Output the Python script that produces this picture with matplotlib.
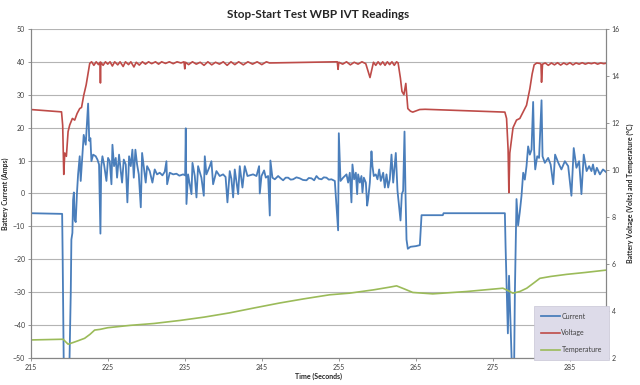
import matplotlib
matplotlib.use('Agg')
import matplotlib.pyplot as plt
from matplotlib.lines import Line2D

# ---------------- data ----------------
title = "Stop-Start Test WBP IVT Readings"
x_label = "Time (Seconds)"
left_label = "Battery Current (Amps)"
right_label = "Battery Voltage (Volts) and Temperature (°C)"
x_ticks = [215, 225, 235, 245, 255, 265, 275, 285]
left_ticks = [-50, -40, -30, -20, -10, 0, 10, 20, 30, 40, 50]
right_ticks = [2, 4, 6, 8, 10, 12, 14, 16]
series_names = ["Current", "Voltage", "Temperature"]

current_t = [215, 219.08, 219.15, 219.3, 220.0, 220.2, 220.28, 220.41, 220.5, 220.6,
             220.71, 220.84, 221.0, 221.15, 221.36, 221.49, 221.71, 221.88, 222.14, 222.45,
             222.6, 222.75, 222.88, 223.1, 223.44, 223.66, 223.87, 224.05, 224.15, 224.31,
             224.52, 224.83, 225.04, 225.26, 225.48, 225.61, 225.82, 226.04, 226.21, 226.47,
             226.69, 226.86, 227.08, 227.34, 227.55, 227.77, 227.99, 228.2, 228.38, 228.59,
             228.81, 229.03, 229.29, 229.46, 229.67, 229.93, 230.11, 230.45, 230.8, 231.1,
             231.4, 231.75, 232.1, 232.4, 232.62, 232.71, 233.05, 233.5, 233.92, 234.3,
             234.78, 235.05, 235.13, 235.22, 235.43, 235.87, 236.0, 236.3, 236.52, 236.73,
             237.16, 237.47, 237.6, 237.81, 238.25, 238.46, 238.68, 239.11, 239.54, 239.98,
             240.3, 240.54, 240.84, 241.05, 241.28, 241.49, 241.93, 242.14, 242.49, 242.79,
             243.14, 243.44, 243.87, 244.31, 244.65, 244.74, 244.96, 245.3, 245.52, 245.82,
             246.04, 246.12, 246.38, 246.69, 247.12, 247.45, 247.77, 248.1, 248.42, 248.75,
             249.07, 249.5, 249.93, 250.35, 250.8, 251.1, 251.45, 251.8, 252.1, 252.4,
             252.75, 253.05, 253.4, 253.7, 254.05, 254.48, 254.91, 255.0, 255.22, 255.56,
             256.0, 256.21, 256.43, 256.64, 256.77, 256.99, 257.21, 257.38, 257.51, 257.73,
             257.94, 258.07, 258.25, 258.51, 258.68, 258.81, 259.03, 259.24, 259.37, 259.54,
             259.8, 260.02, 260.24, 260.45, 260.76, 260.97, 261.19, 261.41, 261.62, 261.84,
             262.06, 262.4, 262.62, 262.83, 263.01, 263.18, 263.35, 263.53, 263.66, 263.79,
             263.96, 264.3, 265.0, 265.52, 265.74, 268.5, 268.6, 276.56, 276.65, 276.95,
             277.1, 277.5, 277.75, 277.86, 278.07, 278.28, 278.5, 278.72, 278.94, 279.15,
             279.37, 279.58, 279.8, 280.02, 280.23, 280.36, 280.5, 280.76, 281.0, 281.32,
             281.45, 281.75, 282.18, 282.5, 282.84, 283.08, 283.5, 283.9, 284.35, 284.78,
             285.2, 285.5, 285.85, 286.2, 286.5, 286.8, 287.17, 287.5, 287.8, 288.0,
             288.25, 288.5, 288.9, 289.3, 289.7]
current_a = [-6, -6.2, -20, -55, -55, -30, -14, -12, -2, 0.3,
             -8, -8.7, 0, 5.8, 11.3, 3.8, 11.8, 17.8, 14.8, 27.3,
             16, 16.8, 9.8, 11.8, 11.3, 10.3, 8.8, -12.2, 8, 11.3,
             8.8, 3.8, 10.8, 9.8, 2.8, 14.8, 8.3, 10.8, 4.8, 11.8,
             6.8, 3.3, 10.3, 8.8, -2.7, 11.3, 8.3, 13.3, 4.8, 13.3,
             8.8, 5.8, -4.2, 12.3, 8.3, 3.3, 8.3, 6.8, 3.3, 7.3,
             5.8, 6.3, 5.5, 6.6, 9.8, 2.8, 6.3, 5.8, 6.0, 5.4,
             5.8, 5.5, 19.8, -3.2, 5.8, -0.2, 9.3, 5.3, -1.2, 8.3,
             4.8, -0.7, 11.3, 5.8, 8.3, 9.8, 2.8, 6.8, 5.3, 5.8,
             5.0, -2.7, 6.8, 4.5, -1.2, 7.3, -0.2, 8.3, 1.8, 8.3,
             5.3, 5.5, 5.8, 5.3, 8.3, 0.0, 5.3, 7.0, 4.8, 5.3,
             -6.7, 10.0, 4.8, 4.3, 5.3, 4.6, 4.0, 4.8, 4.8, 4.2,
             4.3, 4.9, 4.6, 4.1, 4.0, 4.7, 4.6, 4.0, 5.3, 4.5,
             4.3, 4.9, 4.8, 4.2, 4.3, 3.8, -11.2, 18.3, 3.8, 4.8,
             5.8, 3.3, 6.3, -2.7, 8.8, 4.3, 6.3, -0.2, 5.8, 3.3,
             5.3, 0.3, 4.8, 3.3, -3.7, -1.7, 3.3, 12.8, 8.3, 5.3,
             5.8, 4.3, 7.3, 3.8, 6.3, 1.8, 5.8, 1.8, 4.3, 11.8,
             3.3, 12.3, 0.8, -4.2, -8.2, -0.2, 0.8, 18.8, -0.2, -14,
             -16.8, -16.2, -16.0, -15.7, -6.6, -6.6, -6.0, -6.0, -16, -42.5,
             -25, -55, -55, -30, -1.7, -9.7, -5.6, -0.7, 6.3, 4.2,
             8.3, 14.3, 11.8, 13.3, 27.8, 13.3, 7.3, 11.3, 10.8, 28.3,
             11.3, 9.3, 10.8, 8.8, 2.8, 11.8, 9.3, 7.3, 9.8, 8.3,
             -0.7, 13.8, 7.8, 9.8, -0.2, 11.8, 6.8, 8.3, 6.8, 8.8,
             5.8, 7.8, 5.8, 7.3, 6.5]

voltage_t = [215, 219.0, 219.15, 219.29, 219.42, 219.63, 219.85, 220.06, 220.41, 220.71,
             221.02, 221.36, 221.6, 221.88, 222.2, 222.66, 222.9, 223.2, 223.5, 223.8,
             224.0, 224.05, 224.1, 224.4, 224.7, 225.0, 225.3, 225.6, 225.9, 226.3,
             226.6, 227.0, 227.3, 227.7, 228.0, 228.4, 228.7, 229.1, 229.5, 229.9,
             230.3, 230.7, 231.2, 231.6, 232.0, 232.5, 233.0, 233.5, 234.0, 234.5,
             234.9, 235.0, 235.1, 235.5, 236.0, 236.5, 237.0, 237.5, 238.0, 238.5,
             239.0, 239.5, 240.0, 240.5, 241.0, 241.5, 242.0, 242.6, 243.2, 243.8,
             244.4, 245.0, 245.6, 246.0, 254.8, 254.9, 255.0, 255.5, 256.0, 256.5,
             257.0, 257.5, 258.0, 258.5, 258.9, 259.05, 259.3, 259.5, 259.8, 260.1,
             260.4, 260.7, 261.0, 261.3, 261.6, 261.9, 262.2, 262.5, 262.7, 263.0,
             263.2, 263.45, 263.7, 263.96, 264.3, 264.6, 265.5, 266.2, 276.56, 276.78,
             276.98, 277.08, 277.2, 277.42, 277.62, 278.07, 278.5, 278.94, 279.37, 279.8,
             280.1, 280.36, 280.7, 281.1, 281.25, 281.32, 281.45, 281.8, 282.2, 282.6,
             283.0, 283.4, 283.8, 284.2, 284.6, 285.0, 285.4, 285.8, 286.2, 286.6,
             287.0, 287.4, 287.8, 288.2, 288.6, 289.0, 289.4, 289.7]
voltage_v = [12.57, 12.47, 11.9, 9.81, 10.72, 10.58, 11.63, 11.91, 12.19, 12.12,
             12.40, 12.61, 12.66, 13.17, 13.62, 14.53, 14.6, 14.45, 14.6, 14.48,
             14.58, 13.70, 14.58, 14.45, 14.6, 14.5, 14.6, 14.42, 14.6, 14.47,
             14.6, 14.4, 14.6, 14.48, 14.6, 14.38, 14.58, 14.46, 14.6, 14.5,
             14.6, 14.52, 14.6, 14.5, 14.6, 14.53, 14.6, 14.52, 14.6, 14.55,
             14.6, 14.3, 14.58, 14.48, 14.6, 14.5, 14.58, 14.45, 14.6, 14.47,
             14.58, 14.5, 14.6, 14.45, 14.6, 14.48, 14.6, 14.47, 14.6, 14.5,
             14.6, 14.48, 14.6, 14.55, 14.6, 14.28, 14.58, 14.5, 14.6, 14.47,
             14.58, 14.5, 14.6, 14.52, 14.1, 13.93, 14.3, 14.58, 14.45, 14.6,
             14.47, 14.6, 14.45, 14.6, 14.48, 14.6, 14.45, 14.6, 14.55, 13.9,
             13.34, 13.2, 13.68, 12.61, 12.5, 12.46, 12.57, 12.58, 12.46, 12.19,
             10.86, 9.04, 10.72, 11.28, 11.8, 12.12, 12.19, 12.47, 12.75, 13.45,
             14.08, 14.47, 14.55, 14.53, 14.5, 13.73, 14.5, 14.55, 14.45, 14.55,
             14.47, 14.56, 14.46, 14.55, 14.48, 14.56, 14.47, 14.55, 14.5, 14.56,
             14.5, 14.55, 14.52, 14.56, 14.5, 14.55, 14.52, 14.54]

temp_t = [215, 219.2, 219.85, 220.5, 221.1, 222.0, 222.7, 223.3, 224.0, 225.0,
          227.9, 231.0, 234.4, 237.5, 240.8, 244.0, 247.3, 250.5, 253.8, 256.4,
          259.5, 261.5, 262.5, 263.5, 264.6, 267.2, 271.6, 276.3, 276.9, 277.6,
          278.5, 279.4, 280.3, 281.1, 282.5, 284.6, 287.0, 289.7]
temp_c = [2.77, 2.80, 2.59, 2.66, 2.73, 2.84, 3.01, 3.19, 3.22, 3.29,
          3.39, 3.47, 3.60, 3.74, 3.92, 4.13, 4.34, 4.52, 4.69, 4.76,
          4.90, 5.01, 5.07, 4.94, 4.79, 4.73, 4.83, 4.97, 4.88, 4.76,
          4.83, 4.97, 5.19, 5.39, 5.47, 5.56, 5.64, 5.74]

# ---------------- styling ----------------
plt.rcParams['font.family'] = ['Lato', 'DejaVu Sans']
c_cur = '#4a7ebb'
c_volt = '#be4b48'
c_temp = '#9bbb59'
axis_col = '#868686'
txt_col = '#404040'

fig = plt.figure(figsize=(6.4, 3.85), dpi=100)
ax = fig.add_axes([0.048, 0.07, 0.899, 0.855])
ax2 = ax.twinx()

ax.set_xlim(215, 289.7)
ax.set_ylim(-50, 50)
ax2.set_ylim(2, 16)

ax.set_yticks(left_ticks)
ax.set_xticks(x_ticks)
ax2.set_yticks(right_ticks)

ax.yaxis.grid(True, color='#b4b4b4', lw=0.8)
ax.set_axisbelow(True)

ax.plot(current_t, current_a, color=c_cur, lw=1.3, zorder=3)
ax2.plot(voltage_t, voltage_v, color=c_volt, lw=1.2)
ax2.plot(temp_t, temp_c, color=c_temp, lw=1.2)

for a in (ax, ax2):
    a.spines['top'].set_visible(False)
    for s in ('left', 'right', 'bottom'):
        a.spines[s].set_color(axis_col)
        a.spines[s].set_linewidth(0.8)
    a.tick_params(axis='both', labelsize=5, colors=axis_col, labelcolor=txt_col,
                  length=2.5, width=0.6, pad=1.5)

ax.set_title(title, fontsize=8.5, fontweight='bold', color='#262626', pad=8)
ax.set_xlabel(x_label, fontsize=5, fontweight='bold', color='#262626', labelpad=1.5)
ax.set_ylabel(left_label, fontsize=5, fontweight='bold', color='#262626', labelpad=3)
ax2.set_ylabel(right_label, fontsize=5, fontweight='bold', color='#262626', labelpad=5)

handles = [Line2D([], [], color=c_cur, lw=1.3),
           Line2D([], [], color=c_volt, lw=1.2),
           Line2D([], [], color=c_temp, lw=1.2)]
leg = ax2.legend(handles, series_names, loc='upper left', bbox_to_anchor=(0.868, 0.17),
                 fontsize=5, frameon=True, fancybox=False, handlelength=2.8,
                 handletextpad=0.2, labelspacing=1.4, borderpad=1.0)
leg.get_frame().set_facecolor('#dddbe9')
leg.get_frame().set_edgecolor('#c8c6d6')
leg.get_frame().set_linewidth(0.5)
leg.get_frame().set_alpha(1)
for t in leg.get_texts():
    t.set_color(txt_col)

fig.savefig('out.png', dpi=100)
